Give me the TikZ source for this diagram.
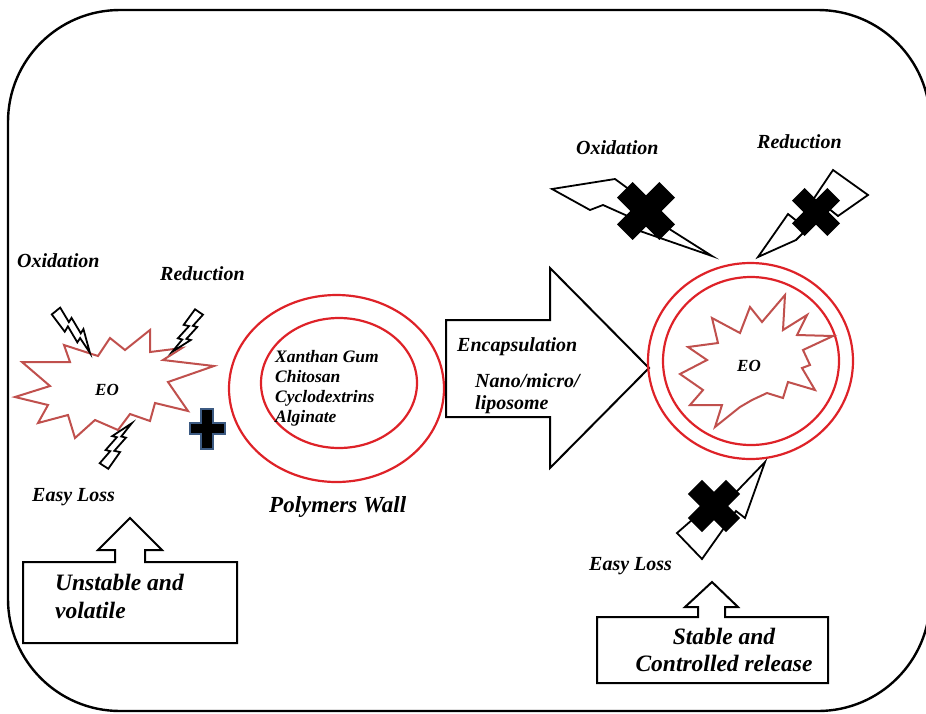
\documentclass[tikz,border=0pt]{standalone}
\usepackage{fontspec}
\setmainfont{Liberation Serif}
\usepackage{tikz}

\definecolor{ringred}{RGB}{222,34,40}
\definecolor{burstred}{RGB}{192,80,77}
\definecolor{plusblue}{RGB}{60,90,130}

% zig-zag bolt, back end at (0,0), tip at (1,0)
\newcommand{\boltshape}{(0,0.10) -- (0.40,0.115) -- (0.36,0.008) -- (0.70,0.058) -- (0.67,-0.032) -- (1,0) -- (0.58,-0.184) -- (0.61,-0.096) -- (0.28,-0.144) -- (0.31,-0.056) -- (0,-0.10) -- cycle}
% black cross: centre x, centre y, arm, half width
\newcommand{\crossmark}[4]{%
  \fill[shift={(#1,#2)}, rotate=45] (-#3,-#4) -- (-#4,-#4) -- (-#4,-#3) -- (#4,-#3) -- (#4,-#4) -- (#3,-#4) -- (#3,#4) -- (#4,#4) -- (#4,#3) -- (-#4,#3) -- (-#4,#4) -- (-#3,#4) -- cycle;}

\begin{document}
\begin{tikzpicture}[
    x=1pt, y=-1pt,
    every node/.style={inner sep=0pt},
    frame/.style={draw, line width=2.4pt, rounded corners=112pt},
    ring/.style={draw=ringred, line width=2.2pt},
    burst/.style={draw=burstred, fill=white, line width=2pt, line join=miter},
    bolt/.style={draw, fill=white, line width=1.8pt, line join=miter},
    notebox/.style={draw, fill=white, line width=2pt, line join=miter},
    lbl/.style={font=\fontsize{20}{22}\selectfont\bfseries\itshape},
    big/.style={font=\fontsize{23.5}{28}\selectfont\bfseries\itshape},
    lst/.style={font=\fontsize{17.5}{20}\selectfont\bfseries\itshape},
    eo/.style={font=\fontsize{17}{20}\selectfont\bfseries\itshape}
]
    \useasboundingbox (0,0) rectangle (926,713);

    % Frame
    \draw[frame] (8,10) rectangle (930,711);

    % Free essential oil
    \draw[burst] (15,397) -- (50,386) -- (22,362) -- (70,362) -- (64,345) -- (98,356) -- (110,338) -- (125,350) -- (150,330) -- (150,352) -- (182,348) -- (163,360) -- (214,366) -- (168,382) -- (188,411) -- (155,403) -- (150,421) -- (130,414) -- (118,430) -- (95,420) -- (75,438) -- (68,415) -- (38,423) -- (48,405) -- cycle;
    \node[eo, anchor=base west] (eoleft) at (95,395) {EO};

    \begin{scope}[shift={(56,311)}, rotate=-51, scale=54]
        \draw[bolt, line width=1.8pt] \boltshape;
    \end{scope}
    \begin{scope}[shift={(199,312)}, rotate=-124, scale=48]
        \draw[bolt, line width=1.8pt] \boltshape;
    \end{scope}
    \begin{scope}[shift={(104,466)}, rotate=57, scale=51]
        \draw[bolt, line width=1.8pt] \boltshape;
    \end{scope}

    \node[lbl, anchor=base west] (oxleft) at (17,267) {Oxidation};
    \node[lbl, anchor=base west] (redleft) at (160,280) {Reduction};
    \node[lbl, anchor=base west] (lossleft) at (32,501) {Easy Loss};

    % Unstable box
    \draw[notebox] (23,562) -- (115,562) -- (115,550) -- (98,550) -- (130,518) -- (162,550) -- (145,550) -- (145,562) -- (237,562) -- (237,643) -- (23,643) -- cycle;
    \node[big, anchor=north west, align=left] (unstable) at (55,574) {Unstable and\\volatile};

    % Plus
    \filldraw[draw=plusblue, fill=black, line width=1.5pt] (190,423) -- (201,423) -- (201,409) -- (213,409) -- (213,423) -- (225,423) -- (225,434) -- (213,434) -- (213,449) -- (201,449) -- (201,434) -- (190,434) -- cycle;

    % Polymers wall
    \draw[ring] (336.5,388.5) ellipse [x radius=107.5pt, y radius=93.5pt];
    \draw[ring] (339,383) ellipse [x radius=78pt, y radius=65pt];
    \node[lst, anchor=north west, align=left] (walls) at (275,350) {Xanthan Gum\\Chitosan\\Cyclodextrins\\Alginate};
    \node[lbl, font=\fontsize{23}{26}\selectfont\bfseries\itshape, anchor=base west] (wall) at (269,512) {Polymers Wall};

    % Encapsulation arrow
    \draw[notebox] (446,320) -- (550,320) -- (550,268) -- (649,368) -- (550,468) -- (550,417) -- (446,417) -- cycle;
    \node[lbl, anchor=base west] (encap) at (457,351) {Encapsulation};
    \node[lbl, anchor=north west, align=left, font=\fontsize{20}{22}\selectfont\bfseries\itshape] (nano) at (475,373) {Nano/micro/\\liposome};

    % Encapsulated essential oil
    \draw[ring] (750.5,361) ellipse [x radius=102.5pt, y radius=98pt];
    \draw[ring] (751,361) ellipse [x radius=88pt, y radius=84pt];
    \draw[burst] (785,295) -- (783,330) -- (807,315) -- (797,335) -- (833,336) -- (803,350) -- (810,365) -- (802,368) -- (815,390) -- (788,382) -- (783,398) -- (767,393) -- (752,400) -- (740,407) -- (715,427) -- (722,405) -- (690,405) -- (703,390) -- (680,374) -- (707,360) -- (688,347) -- (718,343) -- (712,318) -- (740,333) -- (750,307) -- (762,322) -- cycle;
    \node[eo, anchor=base west] (eoright) at (737,371) {EO};

    % Blocked threats
    \draw[bolt] (552,189) -- (615,179) -- (660,212) -- (652,218) -- (712,256) -- (637,230) -- (641,222) -- (603,205) -- (590,210) -- cycle;
    \draw[bolt] (758,257) -- (788,214) -- (798,222) -- (833,170) -- (868,195) -- (838,216) -- (828,208) -- (796,240) -- cycle;
    \draw[bolt] (765,462) -- (745,518) -- (736,511) -- (702,559) -- (677,533) -- (708,506) -- (716,513) -- cycle;
    \crossmark{646}{211}{30}{11}
    \crossmark{816}{212}{25}{9}
    \crossmark{714}{506}{27}{10}

    \node[lbl, anchor=base west] (oxright) at (576,154) {Oxidation};
    \node[lbl, anchor=base west] (redright) at (757,148) {Reduction};
    \node[lbl, anchor=base west] (lossright) at (589,570) {Easy Loss};

    % Stable box
    \draw[notebox] (597,617) -- (698,617) -- (698,607) -- (685,607) -- (712,582) -- (738,607) -- (725,607) -- (725,617) -- (828,617) -- (828,683) -- (597,683) -- cycle;
    \node[big, anchor=north, align=center, font=\fontsize{23.5}{27}\selectfont\bfseries\itshape] (stable) at (724,628) {Stable and\\Controlled release};
\end{tikzpicture}
\end{document}
